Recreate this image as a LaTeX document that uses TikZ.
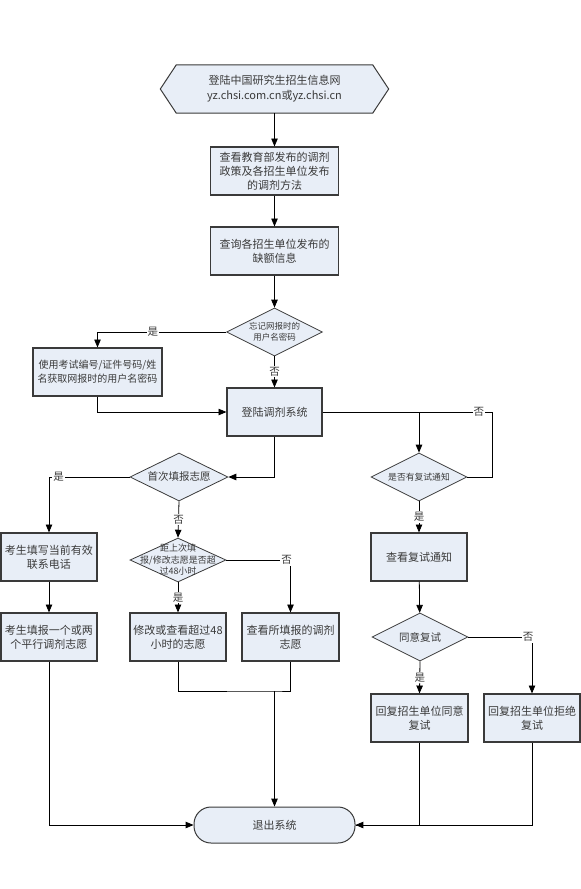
\documentclass[tikz,border=0pt]{standalone}
\usepackage{fontspec}
\setmainfont{Noto Sans CJK SC}
\usetikzlibrary{arrows,backgrounds,shapes.geometric}
\definecolor{tian}{HTML}{E8EEF7}
\definecolor{bian}{HTML}{3A3A3A}

\begin{document}
\begin{tikzpicture}[x=1pt,y=-1pt,
		kuang/.style={rectangle,draw=bian,line width=1.2pt,fill=tian,minimum width=96pt,minimum height=48pt,inner sep=2pt,align=center,text=bian,font=\fontsize{11}{14}\selectfont},
		panduan/.style={diamond,draw=bian,line width=0.8pt,fill=tian,minimum width=96pt,minimum height=48pt,inner sep=0pt,aspect=2,align=center,text=bian},
		xian/.style={line width=0.8pt,black},
		jian/.style={xian,-triangle 45},
		biao/.style={fill=white,inner sep=1pt,text=bian,font=\fontsize{10.5}{12}\selectfont}]
		\useasboundingbox (0,0) rectangle (581,889);
		\newcommand{\buzhou}[4][]{\node[kuang,#1] (#2) at (#3) {#4};}
		
		% main column
		\node[align=center,minimum width=196pt,minimum height=48pt,text=bian,font=\fontsize{11}{15}\selectfont] (start) at (274.5,89) {登陆中国研究生招生信息网\\yz.chsi.com.cn或yz.chsi.cn};
		\buzhou[minimum width=128pt]{zhengce}{274.5,171}{查看教育部发布的调剂\\政策及各招生单位发布\\的调剂方法}
		\buzhou[minimum width=128pt]{queshao}{274.5,251}{查询各招生单位发布的\\缺额信息}
		\node[panduan,font=\fontsize{8.5}{11}\selectfont] (wangji) at (274.5,332) {忘记网报时的\\用户名密码};
		\buzhou[minimum width=129pt,font=\fontsize{10}{14}\selectfont]{huoqu}{97.5,372}{使用考试编号/证件号码/姓\\名获取网报时的用户名密码}
		\buzhou[minimum width=95pt]{denglu}{274.5,412}{登陆调剂系统}
		
		% left part
		\node[panduan,minimum width=98pt,font=\fontsize{10.5}{12}\selectfont] (shouci) at (179,477) {首次填报志愿};
		\buzhou{dianhua}{49,557}{考生填写当前有效\\联系电话}
		\buzhou{zhiyuan}{49,637}{考生填报一个或两\\个平行调剂志愿}
		\node[panduan,minimum height=44pt] (chaoguo) at (178,560) {};
		\node[align=center,text=bian,font=\fontsize{9}{11.5}\selectfont] (chaoguo-t) at (178,560) {距上次填\\报/修改志愿是否超\\过48小时};
		\buzhou{xiugai}{178,637}{修改或查看超过48\\小时的志愿}
		\buzhou[minimum width=97pt]{suotian}{290.5,637}{查看所填报的调剂\\志愿}
		
		% right part
		\node[panduan,font=\fontsize{8.8}{11}\selectfont] (fushi) at (419,477) {是否有复试通知};
		\buzhou{chakan}{419,557}{查看复试通知}
		\node[panduan,font=\fontsize{10.5}{12}\selectfont] (tongyi) at (420,637) {同意复试};
		\buzhou[minimum width=97pt]{huifu}{419.5,718}{回复招生单位同意\\复试}
		\buzhou{jujue}{532,718}{回复招生单位拒绝\\复试}
		
		\buzhou[rounded corners=17pt,minimum width=161pt,minimum height=36pt,line width=1pt]{tuichu}{274.5,825}{退出系统}
		
		\coordinate (youshang) at (492,412);
		\coordinate (hui) at (419,412);
		\coordinate (huizong) at (274.5,691);
		
		\begin{scope}[on background layer]
			\draw[draw=bian,line width=1pt,fill=tian] (start.north west) -- (start.north east) -- ([xshift=16pt]start.east) -- (start.south east) -- (start.south west) -- ([xshift=-16pt]start.west) -- cycle;
		\end{scope}
		
		\draw[jian] (start) -- (zhengce);
		\draw[jian] (zhengce) -- (queshao);
		\draw[jian] (queshao) -- (wangji);
		\draw[jian] (wangji.west) -| node[biao,pos=0.285] (l1) {是} (huoqu.north);
		\draw[jian] (wangji.south) -- node[biao] (l2) {否} (denglu.north);
		\draw[jian] (huoqu.south) |- (denglu.west);
		\draw[jian] (denglu.east) -| (fushi.north);
		\draw[xian] (fushi.east) -| (youshang) -- node[biao,pos=0.18] (l3) {否} (hui);
		\draw[jian] (fushi.south) -- node[biao] (l4) {是} (chakan.north);
		\draw[jian] (chakan) -- (tongyi);
		\draw[jian] (tongyi.south) -- node[biao] (l5) {是} (huifu.north);
		\draw[jian] (tongyi.east) -| node[biao,pos=0.47] (l6) {否} (jujue.north);
		
		\draw[jian] (denglu.south) |- (shouci.east);
		\draw[jian] (shouci.west) -| node[biao,pos=0.44] (l7) {是} (dianhua.north);
		\draw[jian] (shouci.south) -- node[biao] (l8) {否} (chaoguo.north);
		\draw[jian] (dianhua) -- (zhiyuan);
		\draw[jian] (chaoguo.east) -| node[biao,pos=0.47] (l9) {否} (suotian.north);
		\draw[jian] (chaoguo.south) -- node[biao] (l10) {是} (xiugai.north);
		
		\draw[xian] (xiugai.south) |- (huizong) -| (suotian.south);
		\draw[jian] (huizong) -- (tuichu.north);
		\draw[jian] (zhiyuan.south) |- (tuichu.west);
		\draw[jian] (huifu.south) |- (tuichu.east);
		\draw[xian] (jujue.south) |- (tuichu.east);
	\end{tikzpicture}
\end{document}
